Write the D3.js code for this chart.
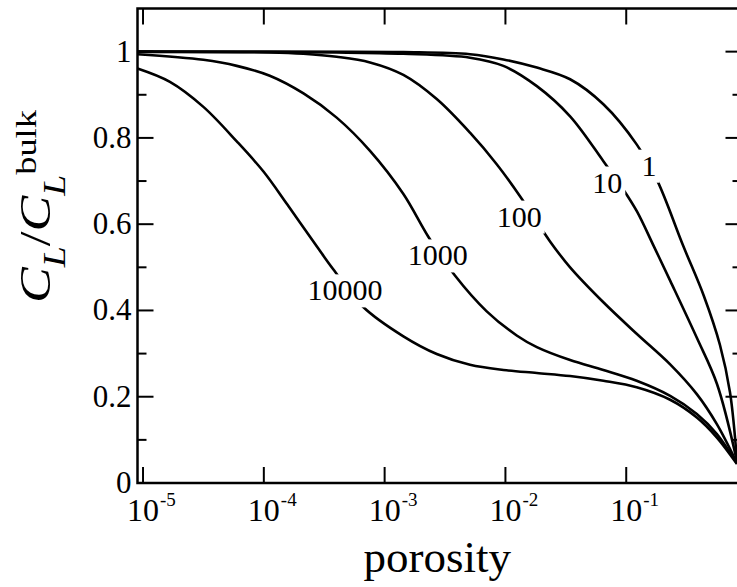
<!DOCTYPE html>
<html>
<head>
<meta charset="utf-8">
<script src="https://cdn.jsdelivr.net/npm/d3@7"></script>
<style>
  body { margin: 0; background: #fff; }
  svg { display: block; }
  svg text { font-family: "Liberation Serif", "Times New Roman", Times, serif; fill: #000; }
</style>
</head>
<body>
<script>
// curves, labelled by parameter value
const CURVE_NAMES = ['1', '10', '100', '1000', '10000'];

const POR_1 = [9e-6, 1.43e-3, 5.09e-3, 9.62e-3, 0.0182, 0.0343, 0.0647, 0.122, 0.180, 0.295, 0.440, 0.597, 0.723, 0.826];
const VAL_1 = [1.0, 0.999, 0.994, 0.982, 0.963, 0.936, 0.878, 0.785, 0.702, 0.551, 0.433, 0.320, 0.210, 0.050];

const POR_10 = [9e-6, 4.01e-4, 1.43e-3, 5.09e-3, 9.62e-3, 0.0182, 0.0343, 0.0647, 0.0953, 0.123, 0.169, 0.232, 0.385, 0.565, 0.826];
const VAL_10 = [1.0, 0.998, 0.995, 0.986, 0.967, 0.920, 0.850, 0.746, 0.679, 0.629, 0.549, 0.468, 0.336, 0.229, 0.050];

const POR_100 = [9e-6, 1.12e-4, 2.13e-4, 4.01e-4, 7.57e-4, 1.43e-3, 2.70e-3, 5.09e-3, 8.47e-3, 0.0132, 0.0234, 0.0343, 0.0647, 0.122, 0.231, 0.384, 0.561, 0.826];
const VAL_100 = [0.999, 0.998, 0.995, 0.988, 0.975, 0.946, 0.890, 0.812, 0.739, 0.665, 0.560, 0.500, 0.419, 0.346, 0.275, 0.206, 0.137, 0.046];

const POR_1000 = [9e-6, 3.16e-5, 5.97e-5, 1.12e-4, 2.13e-4, 4.01e-4, 7.57e-4, 1.43e-3, 2.30e-3, 3.82e-3, 7.0e-3, 0.0124, 0.0182, 0.0343, 0.0647, 0.122, 0.231, 0.384, 0.561, 0.826];
const VAL_1000 = [0.994, 0.981, 0.967, 0.944, 0.903, 0.847, 0.770, 0.670, 0.571, 0.481, 0.398, 0.342, 0.315, 0.285, 0.262, 0.237, 0.202, 0.160, 0.114, 0.045];

const POR_10000 = [9e-6, 1.67e-5, 3.16e-5, 5.97e-5, 9.93e-5, 1.56e-4, 2.75e-4, 3.74e-4, 6.65e-4, 1.43e-3, 2.70e-3, 5.09e-3, 9.62e-3, 0.0182, 0.0343, 0.0647, 0.122, 0.231, 0.384, 0.561, 0.826];
const VAL_10000 = [0.961, 0.930, 0.872, 0.792, 0.722, 0.646, 0.548, 0.496, 0.408, 0.340, 0.299, 0.274, 0.262, 0.255, 0.248, 0.237, 0.222, 0.193, 0.152, 0.106, 0.044];

// where each curve label sits (data units)
const LABEL_POR = [0.1545, 0.0697, 0.0130, 0.00275, 4.70e-4];
const LABEL_VAL = [0.736, 0.697, 0.618, 0.528, 0.447];

const X_TICKS = [1e-5, 1e-4, 1e-3, 1e-2, 1e-1];
const X_TICK_EXP = ['-5', '-4', '-3', '-2', '-1'];
const Y_TICKS = [0, 0.2, 0.4, 0.6, 0.8, 1];
const Y_TICK_LABELS = ['0', '0.2', '0.4', '0.6', '0.8', '1'];
const Y_MINOR = [0.1, 0.3, 0.5, 0.7, 0.9];

const W = 737, H = 587;
const PLOT = { left: 137.5, right: 741.5, top: 8.5, bottom: 483 };
const SERIF = '"Liberation Serif", "Times New Roman", Times, serif';

const x = d3.scaleLog().domain([9e-6, 0.9]).range([PLOT.left, PLOT.right]);
const y = d3.scaleLinear().domain([0, 1.1]).range([PLOT.bottom, PLOT.top]);

const svg = d3.select('body').append('svg')
  .attr('width', W).attr('height', H)
  .attr('viewBox', `0 0 ${W} ${H}`)
  .attr('font-family', SERIF);

svg.append('defs').append('clipPath').attr('id', 'plot-clip')
  .append('rect')
  .attr('x', PLOT.left).attr('y', PLOT.top)
  .attr('width', PLOT.right - PLOT.left).attr('height', PLOT.bottom - PLOT.top);

// curves
const series = [
  [POR_1, VAL_1], [POR_10, VAL_10], [POR_100, VAL_100],
  [POR_1000, VAL_1000], [POR_10000, VAL_10000],
];
const line = d3.line()
  .x(d => x(d[0])).y(d => y(d[1]))
  .curve(d3.curveCatmullRom.alpha(0.5));

const curveG = svg.append('g').attr('clip-path', 'url(#plot-clip)');
series.forEach(([por, val]) => {
  curveG.append('path')
    .datum(por.map((p, i) => [p, val[i]]))
    .attr('d', line)
    .attr('fill', 'none')
    .attr('stroke', '#000')
    .attr('stroke-width', 2.6);
});

// curve labels with a white knock-out behind them
const labG = svg.append('g');
CURVE_NAMES.forEach((name, i) => {
  const t = labG.append('text')
    .attr('x', x(LABEL_POR[i]))
    .attr('y', y(LABEL_VAL[i]))
    .attr('dy', '0.34em')
    .attr('text-anchor', 'middle')
    .attr('font-size', 30)
    .text(name);
  const bb = t.node().getBBox();
  labG.insert('rect', 'text')
    .attr('x', bb.x - 3).attr('y', bb.y + 1)
    .attr('width', bb.width + 6).attr('height', bb.height)
    .attr('fill', '#fff');
});

// ticks: all inward
const tickG = svg.append('g').attr('stroke', '#000').attr('stroke-width', 2);
X_TICKS.forEach(v => {
  tickG.append('line').attr('x1', x(v)).attr('x2', x(v)).attr('y1', PLOT.bottom).attr('y2', PLOT.bottom - 16);
  tickG.append('line').attr('x1', x(v)).attr('x2', x(v)).attr('y1', PLOT.top).attr('y2', PLOT.top + 16);
});
Y_TICKS.forEach(v => {
  tickG.append('line').attr('x1', PLOT.left).attr('x2', PLOT.left + 16).attr('y1', y(v)).attr('y2', y(v));
  tickG.append('line').attr('x1', PLOT.right).attr('x2', PLOT.right - 16).attr('y1', y(v)).attr('y2', y(v));
});
Y_MINOR.forEach(v => {
  tickG.append('line').attr('x1', PLOT.left).attr('x2', PLOT.left + 9).attr('y1', y(v)).attr('y2', y(v));
  tickG.append('line').attr('x1', PLOT.right).attr('x2', PLOT.right - 9).attr('y1', y(v)).attr('y2', y(v));
});

// frame
svg.append('rect')
  .attr('x', PLOT.left).attr('y', PLOT.top)
  .attr('width', PLOT.right - PLOT.left).attr('height', PLOT.bottom - PLOT.top)
  .attr('fill', 'none').attr('stroke', '#000').attr('stroke-width', 2.5);

// y tick labels
Y_TICKS.forEach((v, i) => {
  svg.append('text')
    .attr('x', PLOT.left - 6).attr('y', y(v)).attr('dy', '0.32em')
    .attr('text-anchor', 'end')
    .attr('font-size', 31)
    .text(Y_TICK_LABELS[i]);
});

// x tick labels: "10" centred on the tick, exponent trailing
X_TICKS.forEach((v, i) => {
  const base = svg.append('text')
    .attr('x', x(v)).attr('y', 521)
    .attr('text-anchor', 'middle')
    .attr('font-size', 32)
    .text('10');
  const bw = base.node().getComputedTextLength();
  svg.append('text')
    .attr('x', x(v) + bw / 2 + 1).attr('y', 506)
    .attr('font-size', 19)
    .text(X_TICK_EXP[i]);
});

// axis titles
svg.append('text')
  .attr('x', (PLOT.left + 737) / 2).attr('y', 572)
  .attr('text-anchor', 'middle')
  .attr('font-size', 45)
  .text('porosity');

const yt = svg.append('text')
  .attr('transform', 'translate(50,303) rotate(-90)')
  .attr('font-size', 44)
  .attr('textLength', 193)
  .attr('lengthAdjust', 'spacingAndGlyphs');
yt.append('tspan').attr('font-style', 'italic').text('C');
yt.append('tspan').attr('font-style', 'italic').attr('font-size', 31).attr('dy', 15).text('L');
yt.append('tspan').attr('dy', -15).text('/');
yt.append('tspan').attr('font-style', 'italic').text('C');
yt.append('tspan').attr('font-style', 'italic').attr('font-size', 31).attr('dy', 15).text('L');
yt.append('tspan').attr('font-size', 30).attr('dy', -29).text('bulk');
</script>
</body>
</html>
